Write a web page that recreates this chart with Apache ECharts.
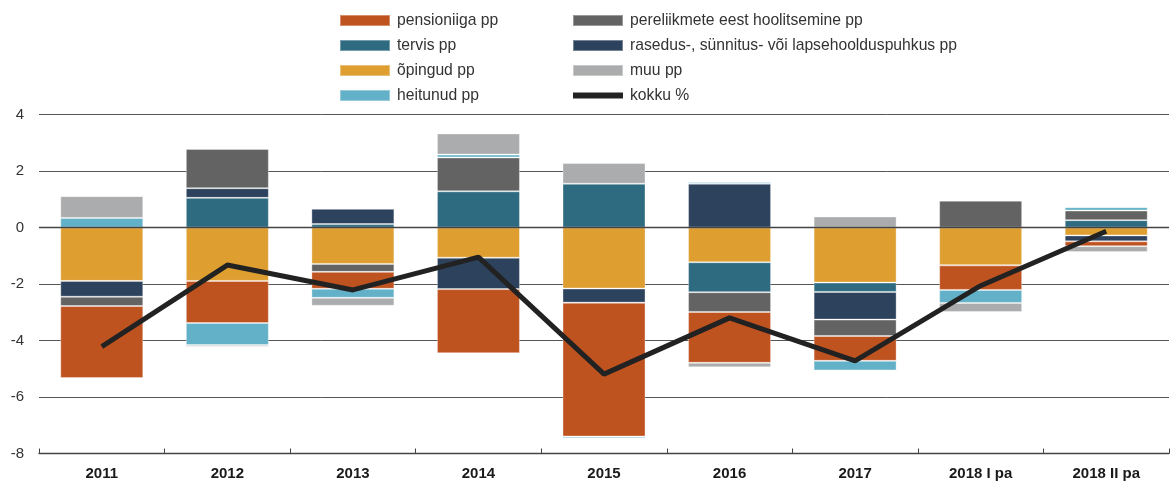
<!DOCTYPE html>
<html>
<head>
<meta charset="utf-8">
<script src="https://cdn.jsdelivr.net/npm/echarts@6/dist/echarts.min.js"></script>
<style>
  html, body { margin: 0; padding: 0; background: #ffffff; }
  #chart { width: 1171px; height: 484px; }
</style>
</head>
<body>
<div id="chart"></div>
<script>
// Categories (years / half-years)
const categories = ['2011', '2012', '2013', '2014', '2015', '2016', '2017', '2018 I pa', '2018 II pa'];

// Contributions by reason, percentage points
const pensioniiga = [-2.55, -1.49, -0.60, -2.27, -4.74, -1.80, -0.88, -0.87, -0.17];
const tervis      = [0.00, 1.05, 0.12, 1.28, 1.55, -1.06, -0.33, 0.00, 0.26];
const opingud     = [-1.89, -1.89, -1.29, -1.07, -2.16, -1.23, -1.95, -1.34, -0.28];
const heitunud    = [0.34, -0.78, -0.32, 0.10, -0.06, 0.06, -0.34, -0.46, 0.12];
const pereliikmed = [-0.33, 1.39, -0.28, 1.20, 0.00, -0.70, -0.58, 0.95, 0.34];
const rasedus     = [-0.56, 0.34, 0.54, -1.11, -0.50, 1.55, -0.98, 0.00, -0.21];
const muu         = [0.77, -0.06, -0.28, 0.75, 0.73, -0.16, 0.39, -0.32, -0.21];

// Total change, %
const kokku = [-4.22, -1.33, -2.21, -1.05, -5.19, -3.20, -4.72, -2.06, -0.13];

// Y-axis range
const yMin = -8, yMax = 4, yStep = 2;

const FONT = '"Liberation Sans", Arial, Helvetica, sans-serif';
const TEXT = '#333333';

const colors = {
  pensioniiga: '#bf5320',
  tervis: '#2e6b80',
  opingud: '#de9e30',
  heitunud: '#63b1c8',
  pereliikmed: '#636364',
  rasedus: '#2d425c',
  muu: '#abacad',
  kokku: '#222222'
};

function barSeries(name, data, color, extra) {
  return Object.assign({
    name: name,
    type: 'bar',
    stack: 'osa',
    barWidth: 83,
    data: data,
    itemStyle: { color: color, borderColor: 'rgba(255,255,255,0.35)', borderWidth: 1 },
    emphasis: { disabled: true }
  }, extra || {});
}

const legendCommon = {
  orient: 'vertical',
  top: 7.5,
  itemWidth: 50,
  itemHeight: 11,
  itemGap: 9,
  icon: 'rect',
  selectedMode: false,
  textStyle: { fontFamily: FONT, fontSize: 15.7, color: TEXT, padding: [0, 0, 0, 2] }
};

// thick bar used as the legend key of the total line
const lineKey = 'path://M0,0H50V6H0Z';

const chart = echarts.init(document.getElementById('chart'), null, { renderer: 'canvas' });

chart.setOption({
  animation: false,
  backgroundColor: '#ffffff',
  legend: [
    Object.assign({}, legendCommon, {
      left: 334,
      data: ['pensioniiga pp', 'tervis pp', 'õpingud pp', 'heitunud pp']
    }),
    Object.assign({}, legendCommon, {
      left: 567,
      data: [
        'pereliikmete eest hoolitsemine pp',
        'rasedus-, sünnitus- või lapsehoolduspuhkus pp',
        'muu pp',
        { name: 'kokku %', icon: lineKey, itemStyle: { color: colors.kokku } }
      ]
    })
  ],
  grid: { left: 39, right: 2, top: 114.5, bottom: 30.5, containLabel: false },
  xAxis: {
    type: 'category',
    data: categories,
    axisLine: { onZero: false, lineStyle: { color: '#444444', width: 1.3 } },
    axisTick: { show: true, inside: true, length: 5, lineStyle: { color: '#444444', width: 1 } },
    axisLabel: { fontFamily: FONT, fontSize: 15, fontWeight: 'bold', color: '#1a1a1a', margin: 13 },
    splitLine: { show: false }
  },
  yAxis: {
    type: 'value',
    min: yMin,
    max: yMax,
    interval: yStep,
    axisLine: { show: false },
    axisTick: { show: false },
    axisLabel: { fontFamily: FONT, fontSize: 15, color: TEXT, margin: 15 },
    splitLine: { show: true, lineStyle: { color: '#555555', width: 1 } }
  },
  series: [
    barSeries('õpingud pp', opingud, colors.opingud),
    barSeries('tervis pp', tervis, colors.tervis),
    barSeries('rasedus-, sünnitus- või lapsehoolduspuhkus pp', rasedus, colors.rasedus),
    barSeries('pereliikmete eest hoolitsemine pp', pereliikmed, colors.pereliikmed),
    barSeries('pensioniiga pp', pensioniiga, colors.pensioniiga),
    barSeries('heitunud pp', heitunud, colors.heitunud),
    barSeries('muu pp', muu, colors.muu, {
      markLine: {
        silent: true,
        symbol: ['none', 'none'],
        label: { show: false },
        lineStyle: { color: '#444444', width: 1.3, type: 'solid' },
        data: [{ yAxis: 0 }]
      }
    }),
    {
      name: 'kokku %',
      type: 'line',
      data: kokku,
      symbol: 'none',
      showSymbol: false,
      z: 10,
      lineStyle: { color: colors.kokku, width: 5 },
      itemStyle: { color: colors.kokku },
      emphasis: { disabled: true }
    }
  ]
});
</script>
</body>
</html>
